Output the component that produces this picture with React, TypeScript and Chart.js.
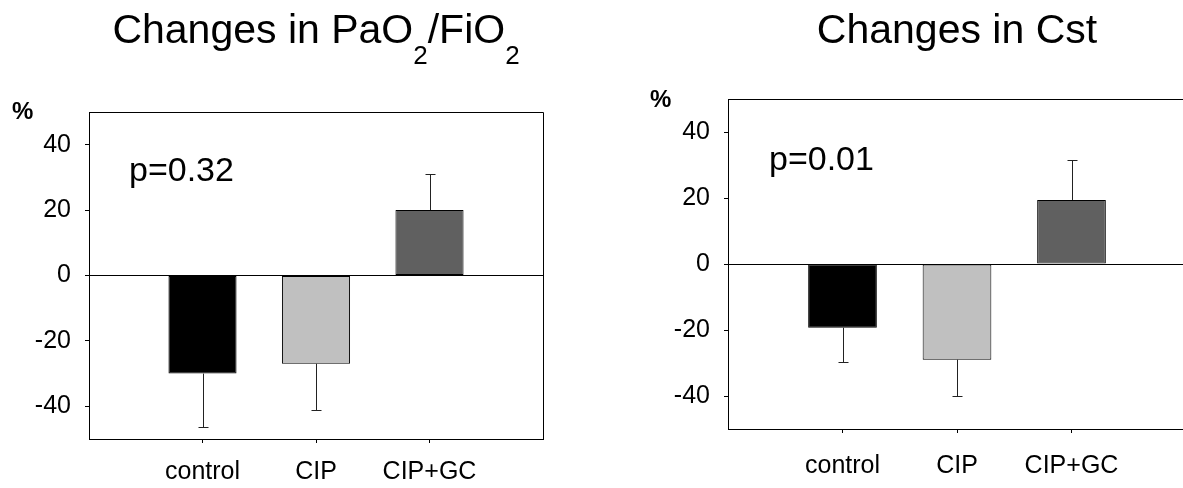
import React, { useEffect, useRef } from "react";
import { Chart, registerables } from "chart.js";

Chart.register(...registerables);

const categories = ["control", "CIP", "CIP+GC"];
const paoValues = [-30, -27, 20];
const paoErrors = [16.3, 14, 11];
const cstValues = [-19.3, -29, 19.4];
const cstErrors = [10.4, 11, 12];
const yTicks = [40, 20, 0, -20, -40];
const xTickPositions = [1, 2, 3];
const barColors = ["#000000", "#c0c0c0", "#606060"];

const FONT = "'Liberation Sans', Arial, Helvetica, sans-serif";

type TitlePart = { text: string; sub?: boolean };

type PanelProps = {
  left: number;
  width: number;
  height: number;
  padTop: number;
  padRight: number;
  yAxisWidth: number;
  xAxisHeight: number;
  xLabelPadding: number;
  values: number[];
  errors: number[];
  titleParts: TitlePart[];
  titleY: number;
  pText: string;
  pX: number;
  pY: number;
  pctX: number;
  pctY: number;
  drawRight: boolean;
};

function BarPanel(props: PanelProps) {
  const ref = useRef<HTMLCanvasElement | null>(null);

  useEffect(() => {
    const canvas = ref.current;
    if (!canvas) return;

    const errorBars = {
      id: "errorBars",
      afterDatasetsDraw(chart: any) {
        const ctx = chart.ctx;
        const meta = chart.getDatasetMeta(0);
        const yScale = chart.scales.y;
        ctx.save();
        ctx.strokeStyle = "#222";
        ctx.lineWidth = 1;
        meta.data.forEach((bar: any, i: number) => {
          const v = props.values[i];
          const sign = v >= 0 ? 1 : -1;
          const end = v + sign * props.errors[i];
          const x = Math.round(bar.x) + 0.5;
          const y0 = yScale.getPixelForValue(v);
          const y1 = Math.round(yScale.getPixelForValue(end)) + 0.5;
          ctx.beginPath();
          ctx.moveTo(x, y0);
          ctx.lineTo(x, y1);
          ctx.moveTo(x - 5, y1);
          ctx.lineTo(x + 5, y1);
          ctx.stroke();
        });
        ctx.restore();
      },
    };

    const overlay = {
      id: "overlay",
      afterDraw(chart: any) {
        const ctx = chart.ctx;
        const a = chart.chartArea;
        ctx.save();
        // box top / right
        ctx.strokeStyle = "#000";
        ctx.lineWidth = 1;
        const L = Math.round(a.left - 0.5) + 0.5;
        const T = Math.round(a.top - 0.5) + 0.5;
        const R = Math.round(a.right - 0.5) + 0.5;
        const B = Math.round(a.bottom - 0.5) + 0.5;
        ctx.beginPath();
        ctx.moveTo(L, T);
        ctx.lineTo(R, T);
        if (props.drawRight) ctx.lineTo(R, B);
        ctx.stroke();

        ctx.fillStyle = "#000";
        ctx.textBaseline = "alphabetic";
        ctx.textAlign = "left";
        // title
        const bigFont = `41px ${FONT}`;
        const subFont = `26px ${FONT}`;
        let total = 0;
        const widths = props.titleParts.map((p) => {
          ctx.font = p.sub ? subFont : bigFont;
          const w = ctx.measureText(p.text).width;
          total += w;
          return w;
        });
        let x = (a.left + a.right) / 2 - total / 2;
        props.titleParts.forEach((p, i) => {
          ctx.font = p.sub ? subFont : bigFont;
          ctx.fillText(p.text, x, p.sub ? props.titleY + 21 : props.titleY);
          x += widths[i];
        });
        // p value
        ctx.font = `34px ${FONT}`;
        ctx.fillText(props.pText, props.pX, props.pY);
        // percent
        ctx.font = `bold 24px ${FONT}`;
        ctx.fillText("%", props.pctX, props.pctY);
        ctx.restore();
      },
    };

    const chart = new Chart(canvas, {
      type: "bar",
      data: {
        datasets: [
          {
            data: categories.map((c, i) => ({ x: xTickPositions[i], y: props.values[i] })),
            backgroundColor: barColors,
            borderColor: "#000",
            borderWidth: 1,
            borderSkipped: false,
            barPercentage: 0.6,
            categoryPercentage: 1,
          } as any,
        ],
      },
      options: {
        responsive: false,
        animation: false,
        events: [],
        layout: { padding: { top: props.padTop, right: props.padRight, left: 0, bottom: 0 } },
        plugins: { legend: { display: false }, tooltip: { enabled: false }, title: { display: false } },
        scales: {
          x: {
            type: "linear",
            min: 0,
            max: 4,
            offset: false,
            afterBuildTicks: (s: any) => {
              s.ticks = xTickPositions.map((v) => ({ value: v }));
            },
            afterFit: (s: any) => {
              s.height = props.xAxisHeight;
            },
            ticks: {
              autoSkip: false,
              maxRotation: 0,
              minRotation: 0,
              padding: props.xLabelPadding,
              color: "#000",
              font: { family: FONT, size: 25 },
              callback: (v: any) => categories[xTickPositions.indexOf(Number(v))] ?? "",
            },
            grid: { offset: false, drawOnChartArea: false, tickLength: 4, tickColor: "#000", tickWidth: 1 },
            border: { display: true, color: "#000", width: 1 },
          } as any,
          y: {
            type: "linear",
            min: -50,
            max: 50,
            afterBuildTicks: (s: any) => {
              s.ticks = yTicks.map((v) => ({ value: v }));
            },
            afterFit: (s: any) => {
              s.width = props.yAxisWidth;
            },
            ticks: { padding: 14, color: "#000", font: { family: FONT, size: 25 } },
            grid: {
              color: (c: any) => (c.tick && c.tick.value === 0 ? "#000" : "rgba(0,0,0,0)"),
              tickColor: "#000",
              tickLength: 4,
              lineWidth: 1,
            },
            border: { display: true, color: "#000", width: 1 },
          } as any,
        },
      },
      plugins: [errorBars, overlay],
    });
    return () => chart.destroy();
  }, []);

  return (
    <canvas
      ref={ref}
      width={props.width}
      height={props.height}
      style={{ position: "absolute", left: props.left, top: 0, width: props.width, height: props.height }}
    />
  );
}

export default function App() {
  return (
    <div
      style={{
        position: "absolute",
        left: 0,
        top: 0,
        width: 1183,
        height: 488,
        overflow: "hidden",
        background: "#fff",
      }}
    >
      <BarPanel
        left={0}
        width={600}
        height={488}
        padTop={112}
        padRight={57}
        yAxisWidth={89}
        xAxisHeight={49}
        xLabelPadding={14}
        values={paoValues}
        errors={paoErrors}
        titleParts={[
          { text: "Changes in PaO" },
          { text: "2", sub: true },
          { text: "/FiO" },
          { text: "2", sub: true },
        ]}
        titleY={43}
        pText="p=0.32"
        pX={129}
        pY={181}
        pctX={12}
        pctY={119}
        drawRight={true}
      />
      <BarPanel
        left={640}
        width={560}
        height={488}
        padTop={99}
        padRight={14}
        yAxisWidth={88}
        xAxisHeight={59}
        xLabelPadding={18}
        values={cstValues}
        errors={cstErrors}
        titleParts={[{ text: "Changes in Cst" }]}
        titleY={43}
        pText="p=0.01"
        pX={129}
        pY={170}
        pctX={10}
        pctY={107}
        drawRight={true}
      />
    </div>
  );
}
